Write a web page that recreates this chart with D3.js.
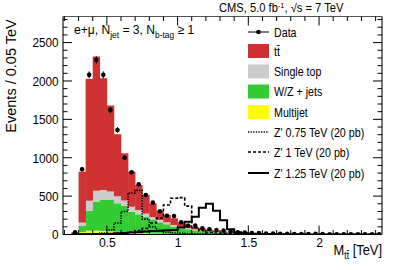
<!DOCTYPE html>
<html><head><meta charset="utf-8">
<script src="https://cdn.jsdelivr.net/npm/d3@7"></script>
<style>body{margin:0;background:#fff} svg{display:block} text{font-family:"Liberation Sans",Arial,Helvetica,sans-serif;fill:#000}</style>
</head><body><svg id="c" width="399" height="270"></svg>
<script>
// ---- data ----
const binCenters = [0.275,0.325,0.375,0.425,0.475,0.525,0.575,0.625,0.675,0.725,0.775,0.825,0.875,0.925,0.975,1.025,1.075,1.125,1.175,1.225,1.275,1.325,1.375,1.425,1.475,1.525,1.575,1.625,1.675,1.725,1.775,1.825,1.875,1.925,1.975,2.025,2.075,2.125,2.175,2.225,2.275,2.325,2.375,2.425];
const binWidth = 0.05;
const multijet = [5,30,50,50,45,40,35,30,25,20,15,12,10,8,6,5,4,3,3,2,2,1,1,1,1,1,0,0,0,0,0,0,0,0,0,0,0,0,0,0,0,0,0,0];
const wzjets   = [10,80,260,380,405,410,372,342,272,243,217,177,149,125,96,75,64,49,39,32,25,21,16,12,9,7,6,5,4,3,3,2,2,2,1,1,1,1,1,1,1,0,0,0];
const singleTop= [5,45,130,140,130,110,90,70,65,55,40,38,30,26,22,20,17,13,10,8,7,5,5,4,4,3,3,2,2,2,2,1,1,1,1,1,1,1,0,0,0,0,0,0];
const ttbar    = [10,664,1587,1748,1456,1120,809,616,457,327,243,180,122,95,87,59,39,30,26,20,16,13,10,8,6,5,4,4,3,3,2,3,2,1,2,1,1,1,1,1,1,2,1,1];
const dataVals = [30,850,2080,2275,2080,1623,1362,1000,811,654,515,415,302,245,241,159,115,115,81,68,59,50,40,30,25,20,18,14,12,10,9,7,7,5,8,5,4,4,3,3,2,3,2,2];
const zp075    = [0,3,5,10,20,60,150,300,540,575,200,100,50,30,20,15,10,8,6,5,4,3,3,2,2,2,1,1,1,1,1,0,0,0,0,0,0,0,0,0,0,0,0,0];
const zp100    = [0,0,2,3,5,8,12,18,30,50,80,150,215,385,472,480,370,90,50,30,20,15,10,8,6,5,4,3,2,2,1,1,1,1,0,0,0,0,0,0,0,0,0,0];
const zp125    = [0,2,4,6,8,10,15,20,25,30,40,45,50,55,60,90,167,232,350,400,310,185,70,30,15,10,6,5,4,3,2,2,1,1,1,1,0,0,0,0,0,0,0,0];
const xTicks = [0.5,1,1.5,2];
const yTicks = [0,500,1000,1500,2000,2500];

const colors = {multijet:"#ffff00", wz:"#33cc33", st:"#cccccc", tt:"#cf3232"};

// ---- layout ----
const svg = d3.select("#c");
const L=63, R=382, T=16.5, B=234.5;
const x = d3.scaleLinear().domain([0.19,2.445]).range([L,R]);
const y = d3.scaleLinear().domain([0,2840]).range([B,T]);

svg.append("defs").append("clipPath").attr("id","clip")
  .append("rect").attr("x",L).attr("y",T).attr("width",R-L).attr("height",B-T);
const plot = svg.append("g").attr("clip-path","url(#clip)");

const rows = binCenters.map((c,i)=>({c, mj:multijet[i], wz:wzjets[i], st:singleTop[i], tt:ttbar[i]}));
const keys = ["mj","wz","st","tt"];
const fill = {mj:colors.multijet, wz:colors.wz, st:colors.st, tt:colors.tt};
const stacked = d3.stack().keys(keys)(rows);
stacked.forEach(layer=>{
  plot.append("g").selectAll("rect").data(layer).join("rect")
    .attr("x", d=>x(d.data.c-binWidth/2))
    .attr("width", d=>x(d.data.c+binWidth/2)-x(d.data.c-binWidth/2)+0.3)
    .attr("y", d=>y(d[1]))
    .attr("height", d=>Math.max(0,y(d[0])-y(d[1])))
    .attr("fill", fill[layer.key]);
});

// Z' step lines
function stepPts(vals){
  const pts = binCenters.map((c,i)=>[c-binWidth/2, vals[i]]);
  pts.push([binCenters[binCenters.length-1]+binWidth/2, vals[vals.length-1]]);
  return pts;
}
const stepLine = d3.line().x(d=>x(d[0])).y(d=>y(d[1])).curve(d3.curveStepAfter);
const zStyles = [
  {vals:zp075, dash:"1.3,1.3", w:1.6},
  {vals:zp100, dash:"3,2", w:1.6},
  {vals:zp125, dash:null, w:2}
];
zStyles.forEach(s=>{
  plot.append("path").attr("d", stepLine(stepPts(s.vals)))
    .attr("fill","none").attr("stroke","#000").attr("stroke-width",s.w)
    .attr("stroke-dasharray", s.dash);
});

// data points
const dg = plot.append("g");
binCenters.forEach((c,i)=>{
  const v=dataVals[i], e=Math.sqrt(v);
  dg.append("line").attr("x1",x(c)).attr("x2",x(c)).attr("y1",y(v-e)).attr("y2",y(v+e))
    .attr("stroke","#000").attr("stroke-width",1);
  dg.append("circle").attr("cx",x(c)).attr("cy",y(v)).attr("r",2.3).attr("fill","#000");
});

// frame
svg.append("line").attr("x1",L).attr("x2",L).attr("y1",T).attr("y2",B).attr("stroke","#777").attr("stroke-width",2);
svg.append("line").attr("x1",R).attr("x2",R).attr("y1",T).attr("y2",B).attr("stroke","#777").attr("stroke-width",2);
svg.append("line").attr("x1",L).attr("x2",R).attr("y1",T).attr("y2",T).attr("stroke","#555").attr("stroke-width",1);
svg.append("line").attr("x1",L).attr("x2",R).attr("y1",B).attr("y2",B).attr("stroke","#000").attr("stroke-width",1.2);

// ticks
const tk = svg.append("g").attr("stroke","#000").attr("stroke-width",1);
d3.range(0,2801,100).forEach(v=>{
  const major = v%500===0, len = major?9:4.5;
  tk.append("line").attr("x1",L).attr("x2",L+len).attr("y1",y(v)).attr("y2",y(v));
  tk.append("line").attr("x1",R).attr("x2",R-len).attr("y1",y(v)).attr("y2",y(v));
});
d3.range(2,25).map(v=>v/10).forEach(v=>{
  const major = Math.abs(v*2-Math.round(v*2))<1e-6, len = major?9:4.5;
  tk.append("line").attr("x1",x(v)).attr("x2",x(v)).attr("y1",T).attr("y2",T+len);
  tk.append("line").attr("x1",x(v)).attr("x2",x(v)).attr("y1",B).attr("y2",B-len);
});

// axis labels
const yAxis = d3.axisLeft(y).tickValues(yTicks).tickSize(0).tickPadding(4).tickFormat(d3.format("d"));
const ya = svg.append("g").attr("transform",`translate(${L-1},0)`).call(yAxis);
ya.select(".domain").remove();
ya.selectAll("text").attr("font-size",13.5).attr("font-family","Liberation Sans, Arial, sans-serif")
  .attr("transform","scale(0.87,1)");
const xAxis = d3.axisBottom(x).tickValues(xTicks).tickSize(0).tickPadding(3).tickFormat(d3.format("~g"));
const xa = svg.append("g").attr("transform",`translate(0,${B})`).call(xAxis);
xa.select(".domain").remove();
xa.selectAll("text").attr("font-size",13.5).attr("font-family","Liberation Sans, Arial, sans-serif")
  .attr("transform","scale(0.9,1)");

// helper for horizontally condensed text
function ctext(px, py, size, sx, anchor){
  return svg.append("g").attr("transform",`translate(${px},${py}) scale(${sx},1)`)
    .append("text").attr("font-size",size).attr("text-anchor",anchor||"start");
}

// titles
svg.append("text").attr("transform","translate(16,76) rotate(-90)").attr("text-anchor","middle")
  .attr("font-size",14.5).text("Events / 0.05 TeV");
const xt = ctext(382, 255, 15, 0.86, "end");
xt.append("tspan").text("M");
xt.append("tspan").attr("font-size",10).attr("dy",4).text("tt\u0304");
xt.append("tspan").attr("dy",-4).text(" [TeV]");

const topTitle = ctext(219, 12, 12, 0.93);
topTitle.append("tspan").text("CMS, 5.0 fb");
topTitle.append("tspan").attr("font-size",8).attr("dy",-4).text("-1");
topTitle.append("tspan").attr("dy",4).text(", \u221As = 7 TeV");

const sel = ctext(74, 34, 13, 0.93);
sel.append("tspan").text("e+\u03bc, N");
sel.append("tspan").attr("font-size",9).attr("dy",4).text("jet");
sel.append("tspan").attr("dy",-4).text(" = 3, N");
sel.append("tspan").attr("font-size",9).attr("dy",4).text("b-tag");
sel.append("tspan").attr("dy",-4).text(" \u2265 1");

// legend
const lg = svg.append("g");
const lx = 248, lw = 21, tx = 274;
const entries = [
  {t:"Data", type:"data", y:32},
  {t:"tt\u0304", type:"box", c:colors.tt, y:51},
  {t:"Single top", type:"box", c:colors.st, y:71.5},
  {t:"W/Z + jets", type:"box", c:colors.wz, y:91.5},
  {t:"Multijet", type:"box", c:colors.multijet, y:112},
  {t:"Z' 0.75 TeV (20 pb)", type:"line", dash:"1.3,1.3", w:1.6, y:132},
  {t:"Z' 1 TeV (20 pb)", type:"line", dash:"3,2", w:1.6, y:152},
  {t:"Z' 1.25 TeV (20 pb)", type:"line", dash:null, w:2, y:173}
];
entries.forEach(e=>{
  if(e.type==="data"){
    lg.append("line").attr("x1",lx).attr("x2",lx+lw).attr("y1",e.y).attr("y2",e.y).attr("stroke","#000");
    lg.append("circle").attr("cx",lx+lw/2).attr("cy",e.y).attr("r",2.3).attr("fill","#000");
  } else if(e.type==="box"){
    lg.append("rect").attr("x",lx).attr("y",e.y-7).attr("width",lw).attr("height",14).attr("fill",e.c);
  } else {
    lg.append("line").attr("x1",lx).attr("x2",lx+lw).attr("y1",e.y).attr("y2",e.y)
      .attr("stroke","#000").attr("stroke-width",e.w).attr("stroke-dasharray",e.dash);
  }
  ctext(tx, e.y+4.5, 12, 0.89).text(e.t);
});
</script></body></html>
